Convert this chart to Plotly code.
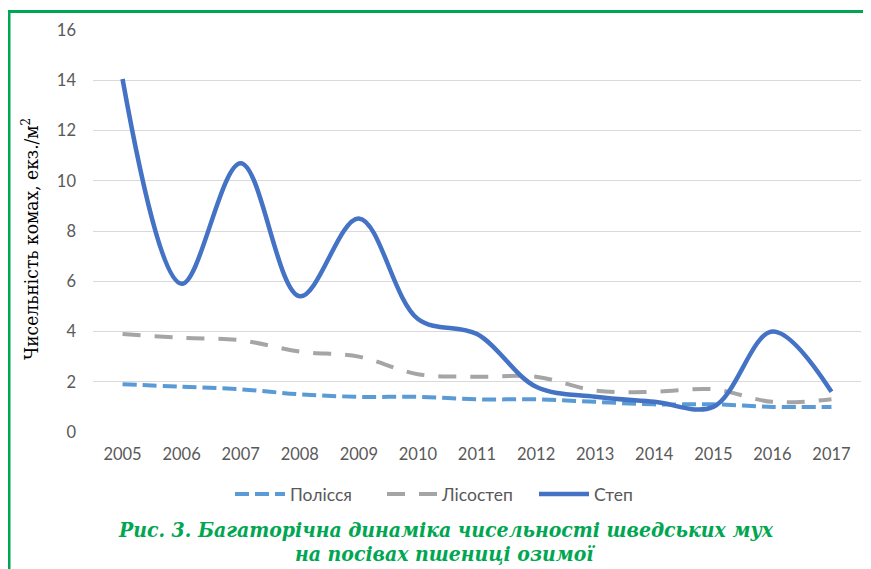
import plotly.graph_objects as go

years = ["2005", "2006", "2007", "2008", "2009", "2010", "2011",
         "2012", "2013", "2014", "2015", "2016", "2017"]
polissia = [1.9, 1.8, 1.7, 1.5, 1.4, 1.4, 1.3, 1.3, 1.2, 1.1, 1.1, 1.0, 1.0]
lisostep = [3.9, 3.75, 3.65, 3.2, 3.0, 2.3, 2.2, 2.2, 1.65, 1.6, 1.7, 1.2, 1.3]
step = [14.05, 5.9, 10.7, 5.4, 8.5, 4.5, 3.9, 1.8, 1.4, 1.2, 1.0, 4.0, 1.6]
series_names = ["Полісся", "Лісостеп", "Степ"]

GREEN = "rgb(0,166,81)"
TICK = "#595959"
SERIF = "DejaVu Serif Condensed"
OFF = 8  # page body offset of the plot div
W, H = 871, 569
PL, PT, PW, PH = 93, 30, 768, 402  # plot area in reference pixels
L, T = PL - OFF, PT - OFF
R, B = W - L - PW, H - T - PH


def px_x(p):
    return (p - PL) / PW


def px_y(p):
    return (PT + PH - p) / PH


fig = go.Figure()
fig.add_trace(go.Scatter(x=years, y=polissia, name=series_names[0], mode="lines",
                         line=dict(color="#5B9BD5", width=4, dash="14px,6px",
                                   shape="spline", smoothing=1)))
fig.add_trace(go.Scatter(x=years, y=lisostep, name=series_names[1], mode="lines",
                         line=dict(color="#A5A5A5", width=4, dash="18px,14px",
                                   shape="spline", smoothing=1)))
fig.add_trace(go.Scatter(x=years, y=step, name=series_names[2], mode="lines",
                         line=dict(color="#4472C4", width=4.5,
                                   shape="spline", smoothing=1)))

fig.update_layout(
    width=W, height=H,
    margin=dict(l=L, r=R, t=T, b=B, autoexpand=False),
    paper_bgcolor="white", plot_bgcolor="white",
    font=dict(family="Lato", size=16, color=TICK),
    showlegend=True,
    legend=dict(orientation="h", x=px_x(230), xanchor="left",
                y=px_y(494), yanchor="middle", entrywidth=87,
                font=dict(family="Lato", size=17.5, color=TICK), itemwidth=50,
                bgcolor="rgba(0,0,0,0)"),
    xaxis=dict(type="category", range=[-0.5, 12.5], showgrid=False,
               showline=False, zeroline=False, ticks="",
               ticklabelstandoff=10, tickfont=dict(size=16.5, color=TICK)),
    yaxis=dict(range=[0, 16], dtick=2, showgrid=True, gridcolor="#D9D9D9",
               gridwidth=1, zeroline=False, showline=False, ticks="",
               ticklabelstandoff=16, tickfont=dict(size=16.5, color=TICK)),
)

# y-axis title
fig.add_annotation(text="Чисельність комах, екз./м<sup>2</sup>", textangle=-90,
                   xref="paper", yref="paper", x=px_x(30), y=px_y(239),
                   showarrow=False, xanchor="center", yanchor="middle",
                   font=dict(family=SERIF, size=19, color="black"))

# caption
cap_font = dict(family=SERIF, size=21, color=GREEN)
fig.add_annotation(text="<b><i>Рис. 3. Багаторічна динаміка чисельності шведських мух</i></b>",
                   xref="paper", yref="paper", x=px_x(446), y=px_y(529),
                   showarrow=False, xanchor="center", yanchor="middle", font=cap_font)
fig.add_annotation(text="<b><i>на посівах пшениці озимої</i></b>",
                   xref="paper", yref="paper", x=px_x(445), y=px_y(553),
                   showarrow=False, xanchor="center", yanchor="middle", font=cap_font)

# green frame (left and top edges)
fig.add_shape(type="line", xref="paper", yref="paper",
              x0=px_x(9), x1=px_x(9), y0=px_y(11.5), y1=px_y(590),
              line=dict(color=GREEN, width=3))
fig.add_shape(type="line", xref="paper", yref="paper",
              x0=px_x(7.5), x1=px_x(890), y0=px_y(11.5), y1=px_y(11.5),
              line=dict(color=GREEN, width=3))

fig.write_html("out.html")
